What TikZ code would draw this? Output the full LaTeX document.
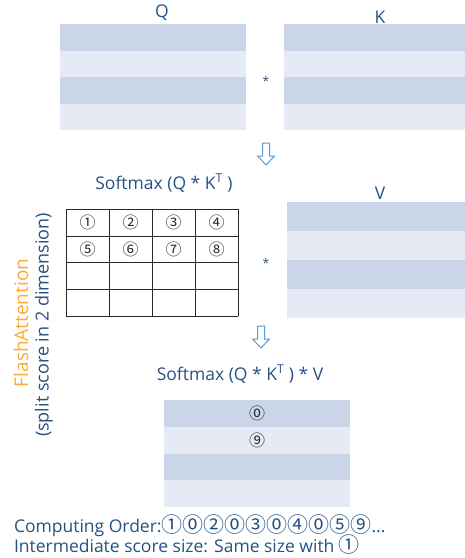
\documentclass[tikz,border=0pt]{standalone}
\usepackage{fontspec}
\setmainfont{Open Sans}
\newfontfamily\circfont{Noto Sans CJK JP}
\definecolor{txt}{RGB}{38,82,130}
\definecolor{bandD}{RGB}{202,213,232}
\definecolor{bandL}{RGB}{229,234,245}
\definecolor{arrowc}{RGB}{91,155,213}
\definecolor{orangeT}{RGB}{255,170,50}
\definecolor{gridc}{RGB}{40,40,40}
\newcommand\bandmat[5]{%
  \pgfmathsetmacro\bh{(#5-#3)/4}%
  \foreach \i in {0,1,2,3}{%
    \pgfmathsetmacro\ya{#3+\i*\bh}%
    \pgfmathsetmacro\yb{#3+(\i+1)*\bh}%
    \pgfmathtruncatemacro\odd{mod(\i,2)}%
    \ifnum\odd=0 \fill[bandD] (#2,\ya) rectangle (#4,\yb);\else\fill[bandL] (#2,\ya) rectangle (#4,\yb);\fi
  }%
  \path (#2,#3) coordinate (#1-nw) (#4,#5) coordinate (#1-se);%
}
\newcommand\hollowarrow[4]{% name, x, ytop, ybottom
  \draw[arrowc, line width=1pt, line join=miter, fill=white]
    ({#2-3.5},#3) -- ({#2+3.5},#3) -- ({#2+3.5},{#4-9}) -- ({#2+8.5},{#4-9})
    -- (#2,#4) -- ({#2-8.5},{#4-9}) -- ({#2-3.5},{#4-9}) -- cycle;
  \coordinate (#1) at (#2,#3);%
}
\begin{document}
\begin{tikzpicture}[x=1pt,y=-1pt,
  every node/.style={inner sep=0pt, outer sep=0pt},
  lbl/.style={text=txt, font=\fontsize{17.5}{20}\selectfont},
  starlbl/.style={text=txt, font=\fontsize{12}{14}\selectfont},
  circ/.style={text=gridc, font=\circfont\fontsize{16}{18}\selectfont},
  gridline/.style={draw=gridc, line width=0.9pt}]
\useasboundingbox (0,0) rectangle (465,558);

% Q and K
\bandmat{Q}{60}{24}{246}{130}
\bandmat{K}{284}{24}{465}{130}
\node[lbl] (qlab) at (162,13) {Q};
\node[lbl] (klab) at (380,17) {K};
\node[starlbl] (star1) at (266,81) {*};

\hollowarrow{arr1}{266}{143}{165}

% Softmax(Q*K^T)
\node[lbl] (sm1) at (164,183) {Softmax (Q * K\textsuperscript{T} )};
\foreach \x in {66,109,152,195,238} \draw[gridline] (\x,209) -- (\x,316);
\foreach \y in {209,236,262,289,316} \draw[gridline] (66,\y) -- (238,\y);
\node[circ] (c1) at (87.5,222.5) {①};
\node[circ] (c2) at (130.5,222.5) {②};
\node[circ] (c3) at (173.5,222.5) {③};
\node[circ] (c4) at (216.5,222.5) {④};
\node[circ] (c5) at (87.5,249) {⑤};
\node[circ] (c6) at (130.5,249) {⑥};
\node[circ] (c7) at (173.5,249) {⑦};
\node[circ] (c8) at (216.5,249) {⑧};

% V
\bandmat{V}{287}{202}{465}{318}
\node[lbl] (vlab) at (380,193) {V};
\node[starlbl] (star2) at (266,263) {*};

\hollowarrow{arr2}{261}{326}{348}

% FlashAttention label
\node[rotate=90, text=orangeT, font=\fontsize{19}{21}\selectfont] (fa) at (21,323) {FlashAttention};
\node[rotate=90, lbl, font=\fontsize{18}{20}\selectfont] (split) at (44,325) {(split score in 2 dimension)};

% Output
\node[lbl] (sm2) at (240,374) {Softmax (Q * K\textsuperscript{T} ) * V};
\bandmat{O}{164}{400}{350}{507}
\node[circ] (c0) at (257,413.5) {⓪};
\node[circ] (c9) at (257,440) {⑨};

% bottom text
\node[lbl, anchor=base west] (order) at (14,532) {Computing Order:{\circfont\fontsize{21}{22}\selectfont ①⓪②⓪③⓪④⓪⑤⑨}...};
\node[lbl, anchor=base west] (inter) at (14,552) {Intermediate score size: Same size with {\circfont\fontsize{21}{22}\selectfont ①}};
\end{tikzpicture}
\end{document}
